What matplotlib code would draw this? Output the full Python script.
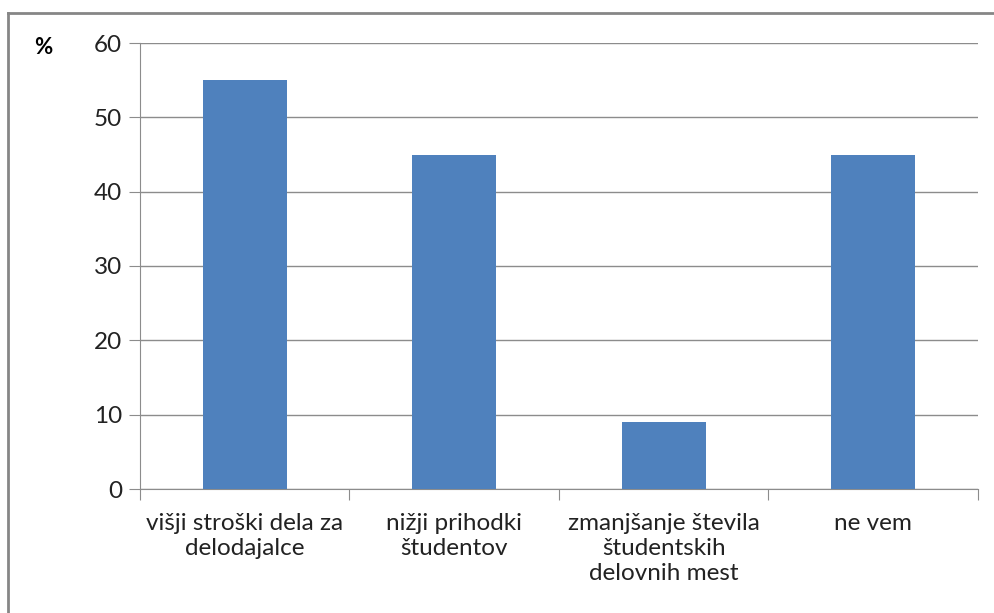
import numpy as np
import matplotlib
matplotlib.use("Agg")
import matplotlib.pyplot as plt
from matplotlib.lines import Line2D

# podatki
kategorije = ["višji stroški dela za\ndelodajalce",
              "nižji prihodki\nštudentov",
              "zmanjšanje števila\nštudentskih\ndelovnih mest",
              "ne vem"]
vrednosti = [55, 45, 9, 45]
y_ticks = [0, 10, 20, 30, 40, 50, 60]

plt.rcParams['font.family'] = ['Lato', 'DejaVu Sans']

W, H = 995, 613
fig = plt.figure(figsize=(W / 100, H / 100), dpi=100)

# okvir grafa (odrezan desno in spodaj)
fig.add_artist(Line2D([8 / W, 8 / W], [0, 1 - 13 / H], color='#868686', lw=2))
fig.add_artist(Line2D([8 / W, 1], [1 - 13 / H, 1 - 13 / H], color='#868686', lw=2))

ax = fig.add_axes([140 / W, 1 - 489 / H, (978 - 140) / W, (489 - 43) / H])

x = np.arange(len(vrednosti))
ax.bar(x, vrednosti, width=0.4, color='#4f81bd', zorder=3)

ax.set_xlim(-0.5, len(vrednosti) - 0.5)
ax.set_ylim(0, 60)
ax.set_yticks(y_ticks)
ax.yaxis.grid(True, color='#8c8c8c', lw=1)
ax.set_axisbelow(True)

for s in ['top', 'right']:
    ax.spines[s].set_visible(False)
for s in ['left', 'bottom']:
    ax.spines[s].set_color('#8c8c8c')

ax.tick_params(axis='y', length=8, color='#8c8c8c', labelsize=17.5, pad=5, labelcolor='#222222')

# kljukice med kategorijami
ax.set_xticks(np.arange(-0.5, len(vrednosti), 1.0))
ax.set_xticklabels([])
ax.tick_params(axis='x', length=8, color='#8c8c8c')
for i, lab in enumerate(kategorije):
    ax.text(i, -3.2, lab, ha='center', va='top', fontsize=17.5, color='#222222',
            linespacing=1.25)

fig.text(43 / W, 1 - 48 / H, '%', ha='center', va='center', fontsize=16, fontweight='bold')

fig.savefig('out.png', dpi=100)
